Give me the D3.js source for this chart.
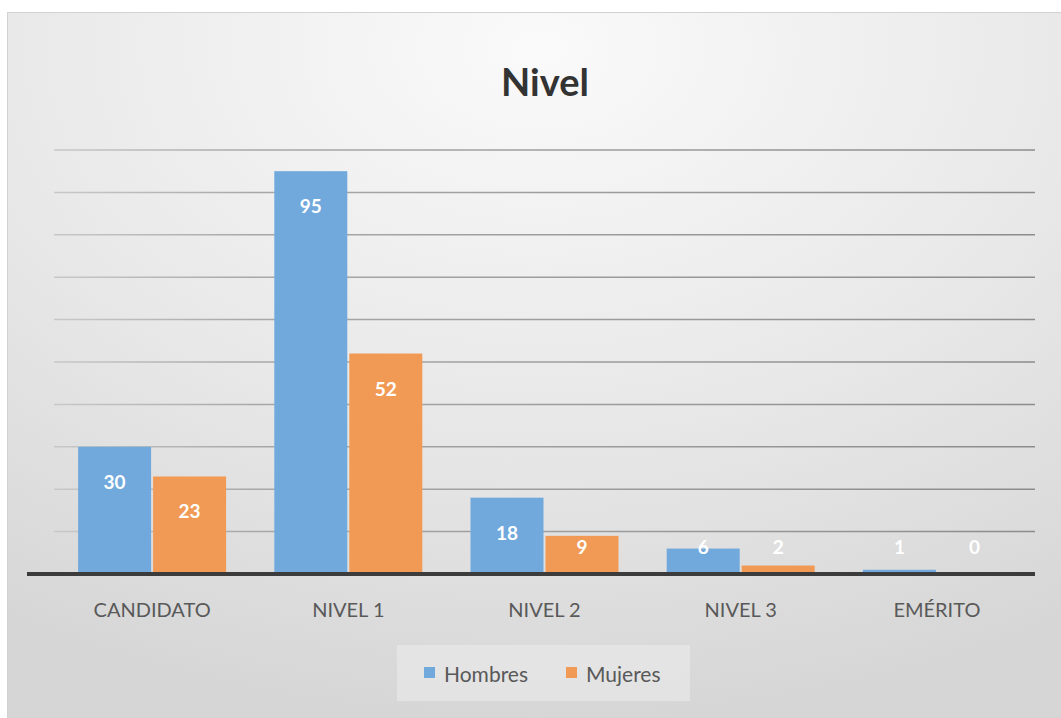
<!DOCTYPE html>
<html>
<head>
<meta charset="utf-8">
<script src="https://d3js.org/d3.v7.min.js"></script>
<style>
  body { margin: 0; background: #fff; }
  text { font-family: Lato, "Open Sans", sans-serif; }
</style>
</head>
<body>
<svg width="1061" height="718"></svg>
<script>
// data
var categories = ["CANDIDATO", "NIVEL 1", "NIVEL 2", "NIVEL 3", "EMÉRITO"];
var hombres = [30, 95, 18, 6, 1];
var mujeres = [23, 52, 9, 2, 0];
var seriesNames = ["Hombres", "Mujeres"];
var gridTicks = [0, 10, 20, 30, 40, 50, 60, 70, 80, 90, 100];

var colors = {Hombres: "#71a9dd", Mujeres: "#f19a55"};

var svg = d3.select("svg");

var plotLeft = 54, plotRight = 1035, plotTop = 150, plotBottom = 574;

var defs = svg.append("defs");
var grad = defs.append("radialGradient").attr("id", "bg")
  .attr("cx", "50%").attr("cy", "5%").attr("r", "95%")
  .attr("fx", "50%").attr("fy", "5%");
grad.append("stop").attr("offset", "0%").attr("stop-color", "#fafafa");
grad.append("stop").attr("offset", "55%").attr("stop-color", "#e8e8e8");
grad.append("stop").attr("offset", "100%").attr("stop-color", "#d6d6d6");

var gridGrad = defs.append("linearGradient").attr("id", "gridfade")
  .attr("gradientUnits", "userSpaceOnUse")
  .attr("x1", plotLeft).attr("x2", plotRight).attr("y1", 0).attr("y2", 0);
gridGrad.append("stop").attr("offset", "0%").attr("stop-color", "#c8c8c8");
gridGrad.append("stop").attr("offset", "20%").attr("stop-color", "#a8a8a8");
gridGrad.append("stop").attr("offset", "100%").attr("stop-color", "#8c8c8c");

// chart frame
svg.append("rect")
  .attr("x", 7.5).attr("y", 12.5)
  .attr("width", 1060).attr("height", 710)
  .attr("fill", "url(#bg)")
  .attr("stroke", "#d2d2d2");

var x = d3.scaleBand().domain(categories).range([plotLeft, plotRight]);
var y = d3.scaleLinear().domain([0, 100]).range([plotBottom, plotTop]);

// title
svg.append("text")
  .attr("x", 545).attr("y", 96)
  .attr("text-anchor", "middle")
  .attr("font-size", 38).attr("font-weight", "bold")
  .attr("fill", "#333")
  .text("Nivel");

// gridlines
svg.append("g").selectAll("line").data(gridTicks.slice(1)).enter().append("line")
  .attr("x1", plotLeft).attr("x2", plotRight)
  .attr("y1", function(d){ return y(d); })
  .attr("y2", function(d){ return y(d); })
  .attr("stroke", "url(#gridfade)")
  .attr("stroke-width", 1.5);

var barW = 73, gap = 2;
var rows = categories.map(function(c, i){
  return [{cat: c, s: "Hombres", v: hombres[i], k: 0}, {cat: c, s: "Mujeres", v: mujeres[i], k: 1}];
}).flat();

function barX(d) {
  var c = x(d.cat) + x.bandwidth() / 2;
  return d.k === 0 ? c - barW - gap / 2 : c + gap / 2;
}

svg.append("g").selectAll("rect").data(rows).enter().append("rect")
  .attr("x", barX)
  .attr("y", function(d){ return y(d.v); })
  .attr("width", barW)
  .attr("height", function(d){ return plotBottom - y(d.v); })
  .attr("fill", function(d){ return colors[d.s]; });

// data labels
svg.append("g").selectAll("text").data(rows).enter().append("text")
  .attr("x", function(d){ return barX(d) + barW / 2; })
  .attr("y", function(d){ return Math.min(y(d.v) + 35, plotBottom - 27) + 7; })
  .attr("text-anchor", "middle")
  .attr("font-size", 19).attr("font-weight", "bold")
  .attr("fill", "#fff")
  .text(function(d){ return d.v; });

// baseline
svg.append("line")
  .attr("x1", plotLeft - 27).attr("x2", plotRight)
  .attr("y1", plotBottom).attr("y2", plotBottom)
  .attr("stroke", "#3c3c3c").attr("stroke-width", 4);

// x axis labels
var xAxis = d3.axisBottom(x).tickSize(0).tickPadding(0);
var ax = svg.append("g").attr("transform", "translate(0," + (plotBottom + 43) + ")").call(xAxis);
ax.select(".domain").remove();
ax.selectAll("text")
  .attr("dy", 0)
  .attr("font-size", 20)
  .attr("font-family", "Lato, 'Open Sans', sans-serif")
  .attr("fill", "#595959");

// legend
var lg = svg.append("g");
lg.append("rect").attr("x", 397).attr("y", 645).attr("width", 293).attr("height", 56)
  .attr("fill", "#e6e6e6").attr("opacity", 0.8);
var legX = [424, 566];
seriesNames.forEach(function(s, i){
  lg.append("rect").attr("x", legX[i]).attr("y", 667).attr("width", 11).attr("height", 11)
    .attr("fill", colors[s]);
  lg.append("text").attr("x", legX[i] + 20).attr("y", 682)
    .attr("font-size", 21).attr("fill", "#595959").text(s);
});
</script>
</body>
</html>
